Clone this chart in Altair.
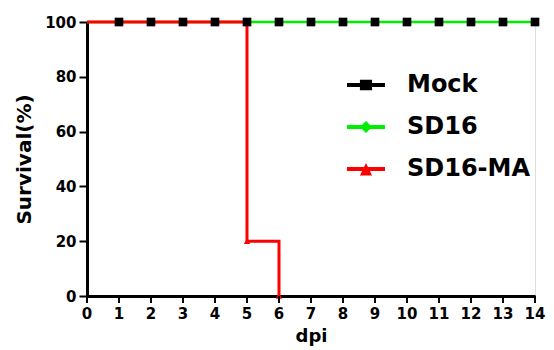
import altair as alt
import pandas as pd

# ---- data ----
mock_days = [1, 2, 3, 4, 5, 6, 7, 8, 9, 10, 11, 12, 13, 14]
mock_surv = [100] * 14
sd16_days = [0, 14]
sd16_surv = [100, 100]
ma_days = [0, 5, 6]
ma_surv = [100, 20, 0]
ma_marker_days = [5, 6]
ma_marker_surv = [20, 0]
series = ["Mock", "SD16", "SD16-MA"]
colors = ["#000000", "#00ee00", "#ff0000"]
x_ticks = list(range(15))
y_ticks = [0, 20, 40, 60, 80, 100]

FONT = "DejaVu Sans"
H = 274

mock_df = pd.DataFrame({"dpi": mock_days, "surv": mock_surv})
sd16_df = pd.DataFrame({"dpi": sd16_days, "surv": sd16_surv})
ma_df = pd.DataFrame({"dpi": ma_days, "surv": ma_surv})
ma_mk = pd.DataFrame({"dpi": ma_marker_days, "surv": ma_marker_surv})
tick_df = pd.DataFrame({"dpi": x_ticks, "lab": [str(t) for t in x_ticks]})
leg_df = pd.DataFrame({"series": series})

xs = alt.Scale(domain=[0, 14], nice=False, zero=False)
ys = alt.Scale(domain=[0, 100], nice=False)

xax = alt.Axis(values=x_ticks, title="dpi", grid=False, domainColor="black", domainWidth=3,
               ticks=False, labels=False, titleFont=FONT,
               titleFontSize=18, titleFontWeight="bold", titleColor="black", titlePadding=31)
yax = alt.Axis(values=y_ticks, title="Survival(%)", grid=False, domainColor="black", domainWidth=3,
               tickColor="black", tickWidth=2, tickSize=8, labelFont=FONT, labelFontSize=15,
               labelFontWeight="bold", labelColor="black", labelPadding=3, titleFont=FONT,
               titleFontSize=20, titleFontWeight="bold", titleColor="black",
               titleX=-63, titleBaseline="middle", labelFlush=False, labelOverlap=False)

x_enc = alt.X("dpi:Q", scale=xs, axis=xax)
y_enc = alt.Y("surv:Q", scale=ys, axis=yax)

green_line = alt.Chart(sd16_df).mark_line(color=colors[1], strokeWidth=2.5, interpolate="step-after").encode(x=x_enc, y=y_enc)
red_line = alt.Chart(ma_df).mark_line(color=colors[2], strokeWidth=3, interpolate="step-after").encode(x=x_enc, y=y_enc)
red_pts = alt.Chart(ma_mk).mark_point(shape="triangle-up", filled=True, color=colors[2], size=40, opacity=1).encode(x=x_enc, y=y_enc)
mock_pts = alt.Chart(mock_df).mark_point(shape="square", filled=True, color=colors[0], size=75, opacity=1).encode(x=x_enc, y=y_enc)

# x ticks and tick labels drawn from x_ticks through the x scale
x_tick_marks = alt.Chart(tick_df).mark_rule(color="black", strokeWidth=2).encode(
    x=x_enc, y=alt.value(H), y2=alt.value(H + 7))
x_tick_labels = alt.Chart(tick_df).mark_text(font=FONT, fontSize=15, fontWeight="bold", color="black",
                                             baseline="top", align="center").encode(
    x=x_enc, y=alt.value(H + 11), text="lab:N")

paths = [
    "M-1,-0.11 L1,-0.11 L1,0.11 L-1,0.11 Z M-0.32,-0.28 L0.32,-0.28 L0.32,0.28 L-0.32,0.28 Z",
    "M-1,-0.11 L1,-0.11 L1,0.11 L-1,0.11 Z M0,-0.32 L0.32,0 L0,0.32 L-0.32,0 Z",
    "M-1,-0.11 L1,-0.11 L1,0.11 L-1,0.11 Z M0,-0.32 L0.32,0.34 L-0.32,0.34 Z",
]

legend = alt.Legend(title=None, orient="none", legendX=260, legendY=44, symbolSize=1444,
                    symbolStrokeWidth=0, labelFont=FONT, labelFontSize=24, labelFontWeight="bold",
                    labelColor="black", labelOffset=22, rowPadding=11, symbolOpacity=1)

leg_layer = alt.Chart(leg_df).transform_filter("false").mark_point(filled=True, size=1444, strokeWidth=0).encode(
    x=alt.value(0), y=alt.value(0),
    color=alt.Color("series:N", scale=alt.Scale(domain=series, range=colors), legend=legend),
    shape=alt.Shape("series:N", scale=alt.Scale(domain=series, range=paths), legend=legend),
)

chart = alt.layer(green_line, red_line, red_pts, mock_pts, x_tick_marks, x_tick_labels, leg_layer).properties(
    width=448, height=H,
    autosize=alt.AutoSizeParams(type="none"),
    padding={"left": 79, "top": 14, "right": 11, "bottom": 52},
).configure_view(stroke=None).configure(background="white")

chart.save("out.html", embed_options={"renderer": "svg", "actions": False})
